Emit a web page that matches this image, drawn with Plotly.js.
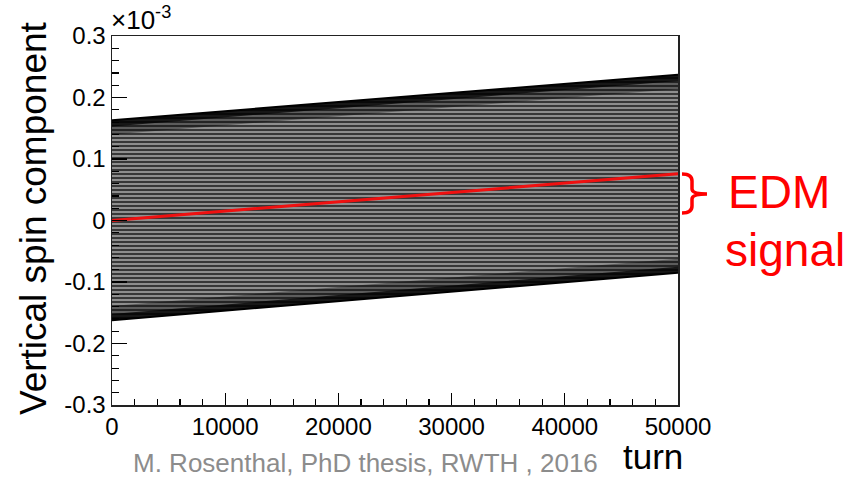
<!DOCTYPE html>
<html>
<head>
<meta charset="utf-8">
<script src="https://cdn.plot.ly/plotly-3.0.1.min.js"></script>
<style>html,body{margin:0;padding:0;background:#fff;}#chart{width:864px;height:478px;}</style>
</head>
<body>
<div id="chart"></div>
<script>
// turns sampled along the x axis
const turn = [0, 25000, 50000];
// envelope of the oscillating vertical spin component (units of 1e-3)
const spinUpper = [0.163, 0.200, 0.237];
const spinLower = [-0.162, -0.124, -0.085];
// dense (dark) rim just inside the envelope
const rimUpper = [0.153, 0.190, 0.227];
const rimLower = [-0.152, -0.114, -0.075];
// softer shaded zone further inside
const shadeUpper = [0.140, 0.177, 0.214];
const shadeLower = [-0.139, -0.101, -0.062];
// EDM signal (red line)
const edmSignal = [0.0, 0.038, 0.076];

const xTickVals = [0, 10000, 20000, 30000, 40000, 50000];
const xTickText = ['0', '10000', '20000', '30000', '40000', '50000'];
const yTickVals = [-0.3, -0.2, -0.1, 0, 0.1, 0.2, 0.3];
const yTickText = ['-0.3', '-0.2', '-0.1', '0', '0.1', '0.2', '0.3'];

const FONT = 'Liberation Sans, Arial, Helvetica, sans-serif';
const none = {color: 'rgba(0,0,0,0)', width: 0};

const traces = [
  {x: turn, y: spinLower, mode: 'lines', line: {color: '#000', width: 2}, hoverinfo: 'skip'},
  {x: turn, y: spinUpper, mode: 'lines', line: {color: '#000', width: 2}, fill: 'tonexty',
   fillcolor: '#707070',
   fillpattern: {shape: '-', fgcolor: '#2e2e2e', bgcolor: '#8e8e8e', size: 4, solidity: 0.45},
   hoverinfo: 'skip'},
  // upper rim
  {x: turn, y: spinUpper, mode: 'lines', line: none, hoverinfo: 'skip'},
  {x: turn, y: shadeUpper, mode: 'lines', line: none, fill: 'tonexty', fillcolor: 'rgba(0,0,0,0.35)', hoverinfo: 'skip'},
  {x: turn, y: spinUpper, mode: 'lines', line: none, hoverinfo: 'skip'},
  {x: turn, y: rimUpper, mode: 'lines', line: none, fill: 'tonexty', fillcolor: 'rgba(0,0,0,0.75)', hoverinfo: 'skip'},
  // lower rim
  {x: turn, y: spinLower, mode: 'lines', line: none, hoverinfo: 'skip'},
  {x: turn, y: shadeLower, mode: 'lines', line: none, fill: 'tonexty', fillcolor: 'rgba(0,0,0,0.35)', hoverinfo: 'skip'},
  {x: turn, y: spinLower, mode: 'lines', line: none, hoverinfo: 'skip'},
  {x: turn, y: rimLower, mode: 'lines', line: none, fill: 'tonexty', fillcolor: 'rgba(0,0,0,0.75)', hoverinfo: 'skip'},
  {x: turn, y: edmSignal, mode: 'lines', line: {color: '#f01010', width: 3}, hoverinfo: 'skip'}
];

const PL = 112, PR = 678, PT = 36, PB = 405;
const W = PR - PL, H = PB - PT;
const px = v => (v - PL) / W;
const py = v => (PB - v) / H;

const bracket = 'M ' + px(682) + ',' + py(174) +
  ' Q ' + px(692) + ',' + py(174) + ' ' + px(692) + ',' + py(181) +
  ' L ' + px(692) + ',' + py(189) +
  ' Q ' + px(692) + ',' + py(194) + ' ' + px(707) + ',' + py(194) +
  ' Q ' + px(692) + ',' + py(194) + ' ' + px(692) + ',' + py(199) +
  ' L ' + px(692) + ',' + py(206) +
  ' Q ' + px(692) + ',' + py(213) + ' ' + px(682) + ',' + py(213);

const layout = {
  width: 864, height: 478,
  margin: {l: PL, r: 864 - PR, t: PT, b: 478 - PB, pad: 0},
  paper_bgcolor: '#fff', plot_bgcolor: '#fff',
  showlegend: false,
  font: {family: FONT, color: '#000'},
  xaxis: {
    range: [0, 50000], tickvals: xTickVals, ticktext: xTickText,
    ticks: 'inside', ticklen: 12, tickwidth: 1.2, tickcolor: '#000',
    minor: {dtick: 2000, ticks: 'inside', ticklen: 6, tickwidth: 1.2, tickcolor: '#000', showgrid: false},
    showgrid: false, zeroline: false, showline: true, linecolor: '#222', linewidth: 1.5, mirror: true,
    tickfont: {family: FONT, size: 24, color: '#000'}
  },
  yaxis: {
    range: [-0.3, 0.3], tickvals: yTickVals, ticktext: yTickText,
    ticks: 'inside', ticklen: 15, tickwidth: 1.2, tickcolor: '#000',
    minor: {dtick: 0.02, ticks: 'inside', ticklen: 7, tickwidth: 1.2, tickcolor: '#000', showgrid: false},
    showgrid: false, zeroline: false, showline: true, linecolor: '#222', linewidth: 1.5, mirror: true,
    tickfont: {family: FONT, size: 24, color: '#000'}
  },
  shapes: [
    {type: 'path', xref: 'paper', yref: 'paper', path: bracket, line: {color: '#ff0000', width: 3.5}}
  ],
  annotations: [
    {text: 'Vertical spin component', xref: 'paper', yref: 'paper', x: px(33), y: py(218),
     xanchor: 'center', yanchor: 'middle', textangle: -90, showarrow: false,
     font: {family: FONT, size: 37, color: '#000'}},
    {text: 'turn', xref: 'paper', yref: 'paper', x: px(653), y: py(456),
     xanchor: 'center', yanchor: 'middle', showarrow: false,
     font: {family: FONT, size: 35, color: '#000'}},
    {text: 'M. Rosenthal, PhD thesis, RWTH , 2016', xref: 'paper', yref: 'paper', x: px(365), y: py(463),
     xanchor: 'center', yanchor: 'middle', showarrow: false,
     font: {family: FONT, size: 26, color: '#8c8c8c'}},
    {text: '×10<sup>-3</sup>', xref: 'paper', yref: 'paper', x: px(109), y: py(37),
     xanchor: 'left', yanchor: 'bottom', showarrow: false,
     font: {family: FONT, size: 26, color: '#000'}},
    {text: 'EDM', xref: 'paper', yref: 'paper', x: px(726), y: py(192),
     xanchor: 'left', yanchor: 'middle', showarrow: false,
     font: {family: FONT, size: 46, color: '#ff0000'}},
    {text: 'signal', xref: 'paper', yref: 'paper', x: px(723), y: py(250),
     xanchor: 'left', yanchor: 'middle', showarrow: false,
     font: {family: FONT, size: 46, color: '#ff0000'}}
  ]
};

Plotly.newPlot('chart', traces, layout, {displayModeBar: false, staticPlot: true});
</script>
</body>
</html>
